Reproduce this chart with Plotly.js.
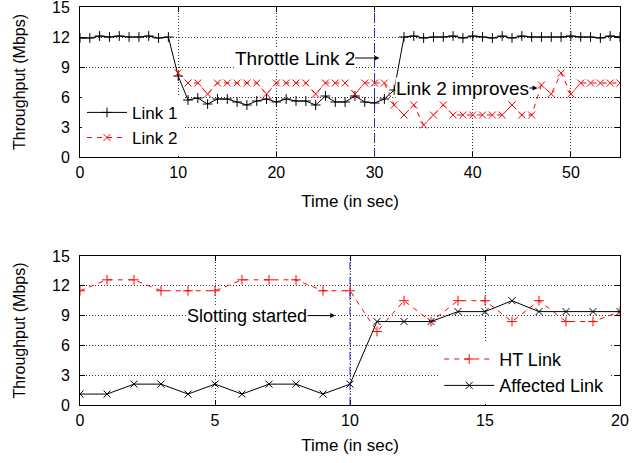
<!DOCTYPE html>
<html>
<head>
<meta charset="utf-8">
<script src="https://cdn.plot.ly/plotly-3.0.1.min.js"></script>
<style>html,body{margin:0;padding:0;background:#fff;}#chart{width:632px;height:463px;}</style>
</head>
<body>
<div id="chart"></div>
<script>
// ---- Top panel data ----
const time1 = [0,1,2,3,4,5,6,7,8,9,10,11,12,13,14,15,16,17,18,19,20,21,22,23,24,25,26,27,28,29,30,31,32,33,34,35,36,37,38,39,40,41,42,43,44,45,46,47,48,49,50,51,52,53,54,55];
const link1 = [11.9,11.9,12.1,12.0,12.1,12.0,12.0,12.1,11.9,12.0,8.1,5.7,5.9,5.3,5.8,5.8,5.5,5.2,5.6,5.8,5.5,5.8,5.6,5.6,5.2,6.1,5.5,5.5,6.1,5.5,5.4,5.8,6.7,12.0,12.1,11.9,12.0,12.0,12.1,11.9,12.1,12.0,11.9,12.1,11.9,12.1,12.0,12.0,12.0,12.0,12.1,12.0,12.0,11.9,12.1,12.0];
const time2 = [10,11,12,13,14,15,16,17,18,19,20,21,22,23,24,25,26,27,28,29,30,31,32,33,34,35,36,37,38,39,40,41,42,43,44,45,46,47,48,49,50,51,52,53,54,55];
const link2 = [8.4,7.4,7.4,6.3,7.4,7.4,7.4,7.4,7.4,6.3,7.4,7.4,7.4,7.4,6.3,7.4,7.4,7.4,6.3,7.4,7.4,7.4,5.2,4.2,5.2,3.2,4.2,5.2,4.2,4.2,4.2,4.2,4.2,4.2,5.2,4.2,4.2,7.2,6.3,8.4,6.3,7.4,7.4,7.4,7.4,7.4];
const throttleTime = 30;

// ---- Bottom panel data ----
const time3 = [0,1,2,3,4,5,6,7,8,9,10,11,12,13,14,15,16,17,18,19,20];
const htLink = [11.5,12.6,12.6,11.5,11.5,11.5,12.6,12.6,12.6,11.5,11.5,7.4,10.5,8.4,10.5,10.5,8.4,10.5,8.4,8.4,9.4];
const affectedLink = [1.1,1.1,2.1,2.1,1.1,2.1,1.1,2.1,2.1,1.1,2.1,8.4,8.4,8.4,9.4,9.4,10.5,9.4,9.4,9.4,9.4];
const slottingTime = 10;

const yTicks = [0,3,6,9,12,15];

const FONT = 'Liberation Sans, Arial, Helvetica, sans-serif';
const RED = '#ff0000';
const BLUE = '#2424d8';

const traces = [
  {x: time1, y: link1, name: 'Link 1', mode: 'lines+markers', xaxis: 'x', yaxis: 'y', legend: 'legend',
   line: {color: '#000', width: 1}, marker: {symbol: 'cross-thin', size: 7, color: '#000', line: {color: '#000', width: 1}}},
  {x: time2, y: link2, name: 'Link 2', mode: 'lines+markers', xaxis: 'x', yaxis: 'y', legend: 'legend',
   line: {color: RED, width: 1, dash: '5px,5px'}, marker: {symbol: 'x-thin', size: 7, color: RED, line: {color: RED, width: 1}}},
  {x: time3, y: htLink, name: 'HT Link', mode: 'lines+markers', xaxis: 'x2', yaxis: 'y2', legend: 'legend2',
   line: {color: RED, width: 1, dash: '5px,5px'}, marker: {symbol: 'cross-thin', size: 7, color: RED, line: {color: RED, width: 1}}},
  {x: time3, y: affectedLink, name: 'Affected Link', mode: 'lines+markers', xaxis: 'x2', yaxis: 'y2', legend: 'legend2',
   line: {color: '#000', width: 1}, marker: {symbol: 'x-thin', size: 7, color: '#000', line: {color: '#000', width: 1}}}
];

const axisCommon = {
  showline: true, linecolor: '#000', linewidth: 1, mirror: 'ticks',
  ticks: 'inside', ticklen: 5, tickcolor: '#000', tickwidth: 1,
  showgrid: true, gridcolor: '#333', griddash: '1px,2px', gridwidth: 1,
  zeroline: false, ticklabeloverflow: 'allow',
  tickfont: {family: FONT, size: 16, color: '#000'}
};

const xTitle = (s) => ({text: 'Time (in sec)', font: {family: FONT, size: 17}, standoff: s});
const yTitle = {text: 'Throughput (Mbps)', font: {family: FONT, size: 16}, standoff: 22};

const layout = {
  width: 632, height: 463,
  margin: {l: 80, r: 12, t: 7, b: 58},
  paper_bgcolor: '#fff', plot_bgcolor: '#fff',
  font: {family: FONT, size: 16, color: '#000'},
  showlegend: true,
  xaxis: Object.assign({}, axisCommon, {domain: [0, 1], anchor: 'y', range: [0, 55], dtick: 10, tick0: 0,
    ticklabelstandoff: 1, title: xTitle(14)}),
  yaxis: Object.assign({}, axisCommon, {domain: [0.6231, 1], anchor: 'x', range: [0, 15], tickvals: yTicks,
    ticklabelstandoff: 6, title: yTitle}),
  xaxis2: Object.assign({}, axisCommon, {domain: [0, 1], anchor: 'y2', range: [0, 20], dtick: 5, tick0: 0,
    ticklabelstandoff: 1, title: xTitle(10)}),
  yaxis2: Object.assign({}, axisCommon, {domain: [0, 0.3744], anchor: 'x2', range: [0, 15], tickvals: yTicks,
    ticklabelstandoff: 6, title: yTitle}),
  legend: {x: 0.0037, y: 0.626, xanchor: 'left', yanchor: 'bottom', bgcolor: '#fff', borderwidth: 0,
    font: {family: FONT, size: 17}, itemwidth: 40, tracegroupgap: 0},
  legend2: {x: 0.98, y: 0.003, xanchor: 'right', yanchor: 'bottom', bgcolor: '#fff', borderwidth: 0,
    font: {family: FONT, size: 18}, itemwidth: 50, tracegroupgap: 0},
  shapes: [
    {type: 'line', xref: 'x', yref: 'y', x0: throttleTime, x1: throttleTime, y0: 0, y1: 15,
     line: {color: BLUE, width: 1, dash: '8px,3px,1px,3px'}},
    {type: 'line', xref: 'x2', yref: 'y2', x0: slottingTime, x1: slottingTime, y0: 0, y1: 15,
     line: {color: BLUE, width: 1, dash: '8px,3px,1px,3px'}}
  ],
  annotations: [
    {xref: 'x', yref: 'y', x: 30.5, y: 9.9, axref: 'x', ayref: 'y', ax: 21.85, ay: 9.9,
     text: 'Throttle Link 2', showarrow: true, arrowhead: 2, arrowsize: 1, arrowwidth: 1, arrowcolor: '#000',
     bgcolor: '#fff', font: {family: FONT, size: 19}, borderpad: 0},
    {xref: 'x', yref: 'y', x: 46.6, y: 6.9, axref: 'x', ayref: 'y', ax: 38.95, ay: 6.9,
     text: 'Link 2 improves', showarrow: true, arrowhead: 2, arrowsize: 1, arrowwidth: 1, arrowcolor: '#000',
     bgcolor: '#fff', font: {family: FONT, size: 19}, borderpad: 0},
    {xref: 'x2', yref: 'y2', x: 9.45, y: 9.0, axref: 'x2', ayref: 'y2', ax: 6.19, ay: 9.0,
     text: 'Slotting started', showarrow: true, arrowhead: 2, arrowsize: 1, arrowwidth: 1, arrowcolor: '#000',
     bgcolor: '#fff', font: {family: FONT, size: 18}, borderpad: 0}
  ]
};

Plotly.newPlot('chart', traces, layout, {displayModeBar: false, staticPlot: true});
</script>
</body>
</html>
